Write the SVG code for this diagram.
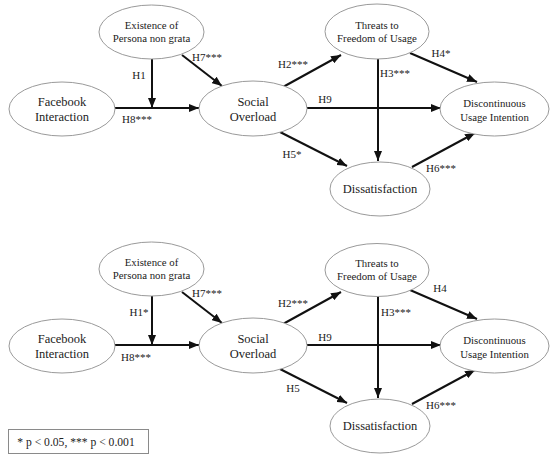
<svg xmlns="http://www.w3.org/2000/svg" width="550" height="460" viewBox="0 0 550 460">
<defs>
<style>
.node ellipse{fill:#fff;stroke:#9a9a9a;stroke-width:1}
.conn line{stroke:#111;stroke-width:2;marker-end:url(#ah)}
</style>
<marker id="ah" markerUnits="userSpaceOnUse" markerWidth="10" markerHeight="8" refX="10" refY="4" orient="auto">
<path d="M0,0 L10,4 L0,8 z" fill="#111"/>
</marker>
</defs>
<rect width="550" height="460" fill="#fff"/>

<g font-family="Liberation Serif, Times New Roman, serif" fill="#222" text-anchor="middle">
<g id="model1">
<g id="conn1" class="conn">
<line x1="115" y1="108" x2="199" y2="108"/>
<line x1="152" y1="59" x2="152" y2="108"/>
<line x1="182" y1="55" x2="222" y2="86"/>
<line x1="283" y1="87" x2="341" y2="55"/>
<line x1="307" y1="108" x2="441" y2="108"/>
<line x1="378" y1="59" x2="378" y2="161"/>
<line x1="410" y1="53" x2="477" y2="82"/>
<line x1="280" y1="132" x2="347" y2="166"/>
<line x1="412" y1="167" x2="475" y2="133"/>
</g>
<g id="labels1" font-size="11">
<text x="139" y="79">H1</text>
<text x="207" y="61">H7***</text>
<text x="137" y="123">H8***</text>
<text x="293" y="68">H2***</text>
<text x="325" y="103">H9</text>
<text x="395" y="77">H3***</text>
<text x="441" y="57">H4*</text>
<text x="292" y="158">H5*</text>
<text x="441" y="172">H6***</text>
</g>
<g id="n1-existence" class="node" font-size="10.8"><ellipse cx="151.5" cy="32" rx="52.5" ry="27"/><text x="151.5" y="29">Existence of</text><text x="151.5" y="41.5">Persona non grata</text></g>
<g id="n1-facebook" class="node" font-size="12.5"><ellipse cx="62" cy="109" rx="53" ry="27"/><text x="62" y="106">Facebook</text><text x="62" y="121">Interaction</text></g>
<g id="n1-social" class="node" font-size="12.5"><ellipse cx="253" cy="108.5" rx="54" ry="27.5"/><text x="253" y="106">Social</text><text x="253" y="121">Overload</text></g>
<g id="n1-threats" class="node" font-size="10.8"><ellipse cx="377" cy="31.5" rx="52" ry="27.5"/><text x="377" y="29">Threats to</text><text x="377" y="41.5">Freedom of Usage</text></g>
<g id="n1-discontinuous" class="node" font-size="10.8"><ellipse cx="494.5" cy="109" rx="54.5" ry="27"/><text x="494.5" y="107">Discontinuous</text><text x="494.5" y="120.5">Usage Intention</text></g>
<g id="n1-dissatisfaction" class="node" font-size="12.5"><ellipse cx="380" cy="189" rx="50" ry="27"/><text x="380" y="193">Dissatisfaction</text></g>
</g>

<g id="model2" transform="translate(0,237)">
<g id="conn2" class="conn">
<line x1="115" y1="108" x2="199" y2="108"/>
<line x1="152" y1="59" x2="152" y2="108"/>
<line x1="182" y1="55" x2="222" y2="86"/>
<line x1="283" y1="87" x2="341" y2="55"/>
<line x1="307" y1="108" x2="441" y2="108"/>
<line x1="378" y1="59" x2="378" y2="161"/>
<line x1="410" y1="53" x2="477" y2="82"/>
<line x1="280" y1="132" x2="347" y2="166"/>
<line x1="412" y1="167" x2="475" y2="133"/>
</g>
<g id="labels2" font-size="11">
<text x="139" y="79">H1*</text>
<text x="207" y="60">H7***</text>
<text x="136" y="124">H8***</text>
<text x="293" y="70">H2***</text>
<text x="325" y="104">H9</text>
<text x="396" y="79">H3***</text>
<text x="440" y="55">H4</text>
<text x="293" y="155">H5</text>
<text x="441" y="172">H6***</text>
</g>
<g id="n2-existence" class="node" font-size="10.8"><ellipse cx="151.5" cy="32" rx="52.5" ry="27"/><text x="151.5" y="29">Existence of</text><text x="151.5" y="41.5">Persona non grata</text></g>
<g id="n2-facebook" class="node" font-size="12.5"><ellipse cx="62" cy="109" rx="53" ry="27"/><text x="62" y="106">Facebook</text><text x="62" y="121">Interaction</text></g>
<g id="n2-social" class="node" font-size="12.5"><ellipse cx="253" cy="108.5" rx="54" ry="27.5"/><text x="253" y="106">Social</text><text x="253" y="121">Overload</text></g>
<g id="n2-threats" class="node" font-size="10.8"><ellipse cx="377" cy="33" rx="52" ry="26.5"/><text x="377" y="30">Threats to</text><text x="377" y="42.5">Freedom of Usage</text></g>
<g id="n2-discontinuous" class="node" font-size="10.8"><ellipse cx="494.5" cy="109" rx="54.5" ry="27"/><text x="494.5" y="107">Discontinuous</text><text x="494.5" y="120.5">Usage Intention</text></g>
<g id="n2-dissatisfaction" class="node" font-size="12.5"><ellipse cx="380" cy="189" rx="50" ry="27"/><text x="380" y="193">Dissatisfaction</text></g>
</g>

<g id="legend">
<rect x="8.5" y="429.5" width="140" height="24" fill="#fff" stroke="#8a8a8a" stroke-width="1"/>
<text x="76" y="445.5" font-size="11.6">* p &lt; 0.05, *** p &lt; 0.001</text>
</g>
</g>
</svg>
